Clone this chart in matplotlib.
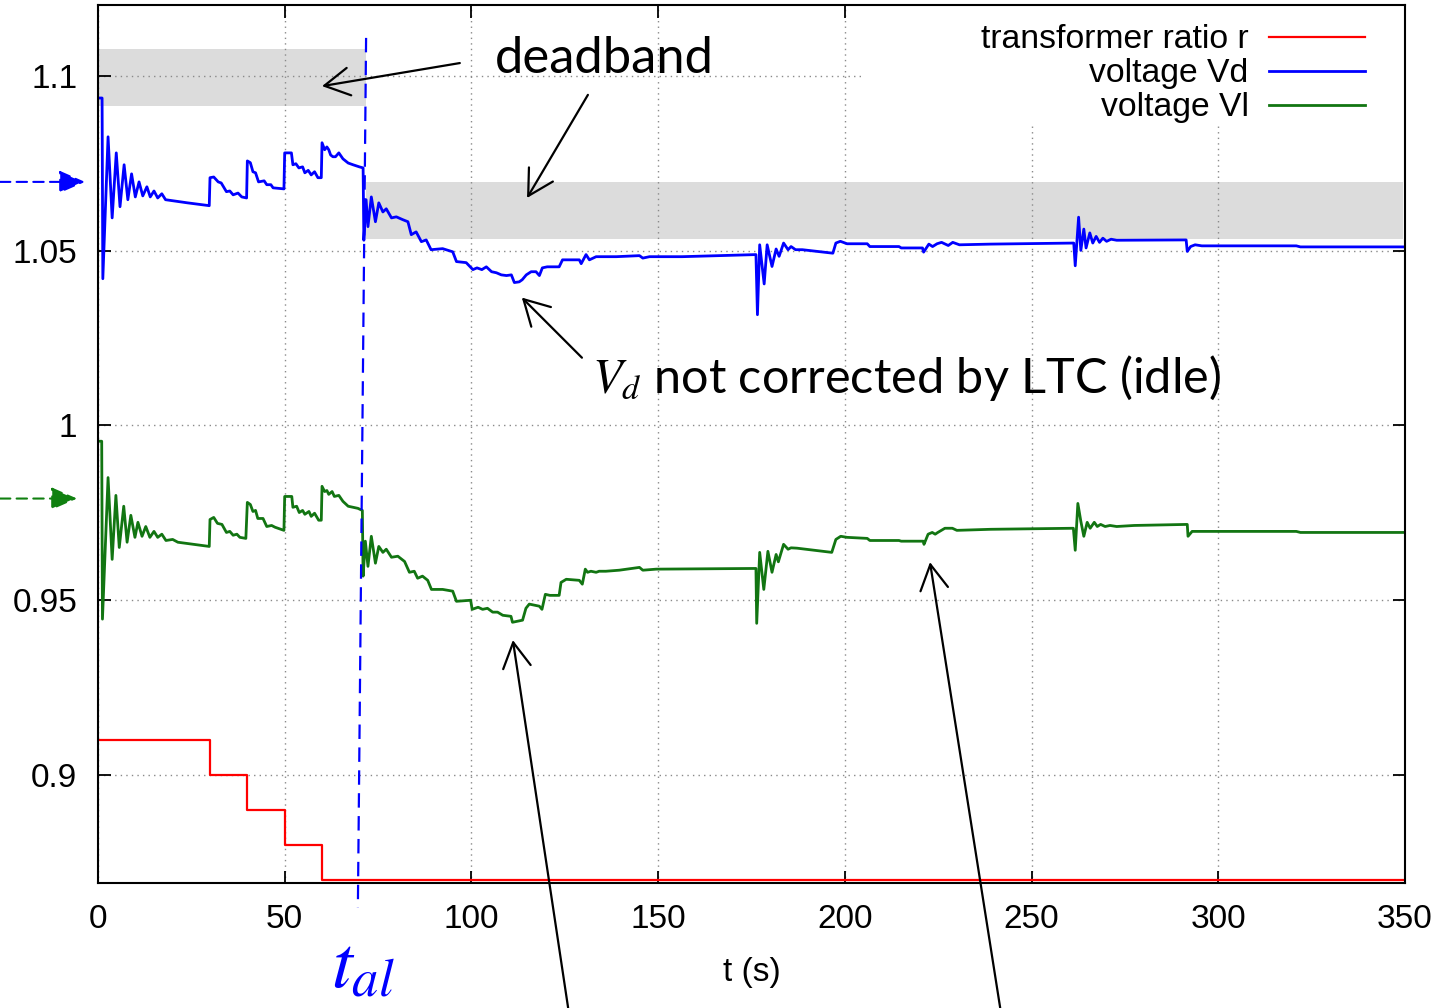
''' LTC voltage response: Vd, Vl and transformer ratio '''

import numpy as np
import matplotlib.pyplot as plt
from matplotlib.patches import Rectangle

plt.rcParams['font.family'] = ['Liberation Sans', 'DejaVu Sans']
plt.rcParams['mathtext.fontset'] = 'stix'

# transformer ratio r (step changes of the tap)
t_r = [0, 30, 40, 50, 60, 350]
r = [0.91, 0.90, 0.89, 0.88, 0.87, 0.87]

# voltage Vd
t_vd = [0.0, 1.1, 1.3, 2.7, 3.8, 4.9, 5.9, 7.0, 8.0, 9.0, 10.0, 11.0, 12.0, 13.1, 14.0,
        15.0, 16.0, 17.1, 18.1, 20.0, 24.0, 29.8,
        30.0, 31.0, 32.2, 33.0, 34.4, 35.3, 36.2, 37.5, 38.5, 39.8,
        40.0, 40.8, 41.5, 42.2, 43.0, 44.5, 45.2, 46.3, 46.9, 49.8,
        50.0, 51.8, 52.2, 53.0, 53.8, 54.8, 55.4, 56.3, 57.1, 58.0, 58.9, 59.8,
        60.0, 60.7, 61.3, 61.8, 62.3, 62.9, 63.6, 64.5, 65.6, 67.0, 68.3, 70.0, 71.0,
        71.2, 71.8, 72.3, 73.2, 74.3, 75.2, 76.3, 77.2, 78.6, 79.9, 81.6, 83.0, 83.9,
        85.2, 86.6, 87.9, 89.2, 92.3, 95.0, 96.0, 98.6, 100.4,
        101.5, 102.8, 104.0, 105.4, 106.7, 108.0, 109.4, 110.7, 111.5, 112.8, 113.6,
        114.7, 116.0, 117.3, 118.2, 119.0, 120.3, 123.5, 124.4, 128.9, 129.4, 130.7,
        131.6, 133.4, 138.8, 145.0, 145.9, 147.7, 149.5, 156.4, 176.2,
        176.6, 177.2, 178.4, 179.2, 180.5, 181.6, 182.4, 183.6, 184.8, 185.6, 186.8,
        188.6, 196.8, 197.6, 198.8, 200.6, 206.0, 206.7, 214.5, 215.1, 220.8, 221.1,
        222.5, 223.5, 224.7, 225.9, 227.7, 228.9, 230.7, 239.1, 261.3,
        261.7, 262.6, 263.2, 264.0, 264.6, 265.6, 266.4, 267.3, 268.2, 269.1, 270.1,
        271.3, 272.8, 291.4, 291.7, 292.6, 293.8, 295.6, 320.9, 322.0, 350.0]
v_d = [1.0937, 1.0937, 1.0420, 1.0826, 1.0594, 1.0780, 1.0626, 1.0746, 1.0646, 1.0720,
       1.0654, 1.0697, 1.0657, 1.0683, 1.0654, 1.0671, 1.0651, 1.0663, 1.0646, 1.0643,
       1.0637, 1.0629,
       1.0709, 1.0711, 1.0697, 1.0694, 1.0669, 1.0671, 1.0660, 1.0665, 1.0654, 1.0651,
       1.0757, 1.0752, 1.0726, 1.0723, 1.0697, 1.0700, 1.0689, 1.0689, 1.0680, 1.0677,
       1.0780, 1.0780, 1.0746, 1.0749, 1.0737, 1.0740, 1.0723, 1.0730, 1.0717, 1.0726,
       1.0709, 1.0709,
       1.0809, 1.0789, 1.0797, 1.0789, 1.0774, 1.0769, 1.0769, 1.0780, 1.0763, 1.0751,
       1.0746, 1.0740, 1.0737,
       1.0530, 1.0646, 1.0569, 1.0654, 1.0583, 1.0637, 1.0611, 1.0620, 1.0594, 1.0597,
       1.0589, 1.0583, 1.0546, 1.0554, 1.0526, 1.0531, 1.0503, 1.0506, 1.0497, 1.0469,
       1.0466, 1.0446,
       1.0451, 1.0446, 1.0454, 1.0440, 1.0437, 1.0431, 1.0429, 1.0431, 1.0409, 1.0411,
       1.0417, 1.0431, 1.0440, 1.0440, 1.0429, 1.0451, 1.0454, 1.0454, 1.0474, 1.0474,
       1.0463, 1.0489, 1.0474, 1.0483, 1.0483, 1.0486, 1.0479, 1.0483, 1.0483, 1.0483,
       1.0489,
       1.0317, 1.0517, 1.0405, 1.0517, 1.0455, 1.0505, 1.0484, 1.0522, 1.0503, 1.0512,
       1.0503, 1.0503, 1.0493, 1.0522, 1.0527, 1.0520, 1.0520, 1.0512, 1.0512, 1.0508,
       1.0508, 1.0496, 1.0519, 1.0512, 1.0520, 1.0524, 1.0515, 1.0524, 1.0517, 1.0519,
       1.0522,
       1.0457, 1.0596, 1.0501, 1.0562, 1.0508, 1.0551, 1.0522, 1.0541, 1.0524, 1.0536,
       1.0527, 1.0533, 1.0530, 1.0531, 1.0498, 1.0512, 1.0517, 1.0514, 1.0514, 1.0511,
       1.0511]

# voltage Vl
t_vl = [0.0, 1.0, 1.2, 2.7, 3.8, 4.8, 5.7, 6.9, 7.8, 8.8, 9.9, 10.7, 11.8, 12.8, 13.9,
        15.0, 16.0, 17.1, 18.2, 20.0, 21.4, 29.8,
        30.0, 31.0, 32.0, 33.2, 34.4, 35.3, 36.2, 37.2, 38.0, 39.6,
        40.0, 40.8, 41.5, 42.2, 42.8, 44.2, 45.2, 46.5, 47.4, 49.8,
        50.0, 51.9, 52.2, 53.2, 53.9, 54.8, 55.4, 56.5, 57.1, 58.0, 59.1, 59.8,
        60.0, 60.7, 61.3, 61.8, 62.7, 63.3, 64.5, 65.6, 67.0, 68.3, 69.6, 70.8,
        71.0, 71.6, 72.3, 73.2, 74.3, 75.2, 76.3, 77.2, 78.6, 80.3, 82.1, 83.4, 84.7,
        85.6, 86.9, 88.3, 89.3, 92.3, 95.0, 96.0, 99.8,
        100.2, 101.8, 103.0, 104.3, 105.7, 107.0, 108.4, 110.6, 111.0, 113.7, 114.6,
        115.5, 118.2, 118.9, 119.8, 121.0, 123.5, 124.0, 125.4, 128.9, 129.7, 130.5,
        131.1, 132.0, 133.4, 134.2, 136.0, 139.6, 145.0, 145.9, 149.5, 176.2,
        176.4, 177.2, 178.3, 179.4, 180.5, 181.6, 182.2, 183.6, 184.8, 185.6, 187.2,
        196.5, 197.6, 198.9, 200.6, 206.0, 206.7, 214.5, 215.1, 221.0, 221.2, 222.3,
        223.4, 224.2, 224.9, 226.8, 228.8, 230.0, 239.0, 261.2,
        261.7, 262.4, 263.2, 264.0, 264.9, 265.7, 266.8, 267.6, 268.5, 269.7, 271.0,
        272.8, 277.5, 291.7, 291.9, 293.0, 295.5, 320.9, 322.0, 350.0]
v_l = [0.9955, 0.9955, 0.9446, 0.9851, 0.9617, 0.9800, 0.9651, 0.9769, 0.9666, 0.9743,
       0.9680, 0.9723, 0.9683, 0.9711, 0.9680, 0.9697, 0.9680, 0.9689, 0.9671, 0.9674,
       0.9666, 0.9654,
       0.9731, 0.9737, 0.9720, 0.9717, 0.9694, 0.9697, 0.9686, 0.9689, 0.9680, 0.9677,
       0.9780, 0.9774, 0.9754, 0.9757, 0.9734, 0.9734, 0.9711, 0.9714, 0.9709, 0.9700,
       0.9797, 0.9797, 0.9766, 0.9769, 0.9751, 0.9757, 0.9746, 0.9754, 0.9740, 0.9749,
       0.9729, 0.9729,
       0.9826, 0.9811, 0.9814, 0.9803, 0.9811, 0.9797, 0.9800, 0.9783, 0.9769, 0.9766,
       0.9763, 0.9757,
       0.9569, 0.9669, 0.9597, 0.9683, 0.9606, 0.9654, 0.9637, 0.9646, 0.9623, 0.9626,
       0.9611, 0.9580, 0.9583, 0.9563, 0.9569, 0.9557, 0.9531, 0.9531, 0.9526, 0.9497,
       0.9500,
       0.9474, 0.9480, 0.9474, 0.9477, 0.9466, 0.9466, 0.9457, 0.9454, 0.9437, 0.9443,
       0.9477, 0.9489, 0.9483, 0.9474, 0.9517, 0.9514, 0.9514, 0.9551, 0.9560, 0.9557,
       0.9546, 0.9589, 0.9580, 0.9583, 0.9580, 0.9583, 0.9583, 0.9586, 0.9594, 0.9586,
       0.9589, 0.9591,
       0.9434, 0.9637, 0.9531, 0.9640, 0.9580, 0.9631, 0.9610, 0.9660, 0.9646, 0.9650,
       0.9649, 0.9637, 0.9674, 0.9683, 0.9680, 0.9677, 0.9671, 0.9671, 0.9669, 0.9669,
       0.9660, 0.9689, 0.9694, 0.9689, 0.9694, 0.9706, 0.9706, 0.9700, 0.9703, 0.9706,
       0.9643, 0.9777, 0.9726, 0.9683, 0.9723, 0.9706, 0.9723, 0.9711, 0.9717, 0.9711,
       0.9714, 0.9711, 0.9714, 0.9717, 0.9683, 0.9697, 0.9697, 0.9697, 0.9694, 0.9694]

# deadbands (t start, t end, lower, upper)
band_before = (0, 71.8, 1.0915, 1.1077)
band_after = (71.7, 349.5, 1.0535, 1.0697)

# alarm time marker, slightly slanted
t_al_line = [71.8, 69.6]
v_al_line = [1.1109, 0.862]

y_ticks = [0.9, 0.95, 1.0, 1.05, 1.1]
y_tick_labels = ['0.9', '0.95', '1', '1.05', '1.1']
x_ticks = [0, 50, 100, 150, 200, 250, 300, 350]

fig = plt.figure(figsize=(14.45, 10.08), dpi=100)
ax = fig.add_axes([0.0678, 0.124, 0.9045, 0.871])

# shaded deadbands
for t0, t1, lo, hi in (band_before, band_after):
    ax.fill_between([t0, t1], lo, hi, color='#dcdcdc', lw=0, zorder=0.3)

ax.set_axisbelow(True)
ax.grid(True, color='#8a8a8a', linestyle=(0, (1, 3)), lw=1.0)

# opaque key area
ax.add_patch(Rectangle((0.587, 0.8645), 0.413, 0.1355, transform=ax.transAxes,
                       facecolor='white', edgecolor='none', zorder=0.8))

ax.plot(t_r, r, drawstyle='steps-post', color='#ff0000', lw=1.6, label='transformer ratio r')
ax.plot(t_vd, v_d, color='#0000ff', lw=2.0, label='voltage Vd')
ax.plot(t_vl, v_l, color='#127512', lw=2.0, label='voltage Vl')

ax.plot(t_al_line, v_al_line, color='#0000ff', lw=1.6, linestyle=(0, (6.5, 3.8)), clip_on=False)

ax.set_xlim(0, 350)
ax.set_ylim(0.8691, 1.1203)
ax.set_xticks(x_ticks)
ax.set_yticks(y_ticks)
ax.set_yticklabels(y_tick_labels)
ax.tick_params(direction='in', length=9, width=1.3, labelsize=24, pad=15,
               top=True, right=True)
for s in ax.spines.values():
    s.set_linewidth(1.5)

ax.set_xlabel('t (s)', fontsize=24, labelpad=16)

ax.legend(loc='upper right', bbox_to_anchor=(0.9694, 0.978), markerfirst=False,
          frameon=False, fontsize=24.3, handlelength=2.85, handletextpad=0.6,
          labelspacing=0.09, borderpad=0, borderaxespad=0)

# arrows from the left margin
ytr = ax.get_yaxis_transform()
ax.annotate('', xy=(-0.0099, 1.0697), xytext=(-0.075, 1.0697), xycoords=ytr, textcoords=ytr,
            annotation_clip=False,
            arrowprops=dict(arrowstyle='-|>,head_length=0.8,head_width=0.35', color='#0000ff',
                            lw=1.5, linestyle=(0, (5, 3)), shrinkA=0, shrinkB=0,
                            mutation_scale=20))
ax.annotate('', xy=(-0.016, 0.9791), xytext=(-0.075, 0.9791), xycoords=ytr, textcoords=ytr,
            annotation_clip=False,
            arrowprops=dict(arrowstyle='-|>,head_length=0.8,head_width=0.35', color='#108010',
                            lw=1.5, linestyle=(0, (5, 3)), shrinkA=0, shrinkB=0,
                            mutation_scale=20))

# callouts
arrow_kw = dict(arrowstyle='->,head_length=0.9,head_width=0.5', color='black', lw=1.6,
                shrinkA=0, shrinkB=0, mutation_scale=20)
callouts = [((60.0, 1.0971), (96.9, 1.1037)),
            ((114.9, 1.0651), (131.2, 1.0946)),
            ((113.5, 1.0366), (129.6, 1.0194)),
            ((111.1, 0.9386), (125.9, 0.8334)),
            ((222.8, 0.9609), (241.6, 0.8334))]
for tip, tail in callouts:
    ax.annotate('', xy=tip, xytext=tail, annotation_clip=False, arrowprops=arrow_kw)

ax.text(106.3, 1.1009, 'deadband', fontsize=36.5, family='Lato', va='baseline')
ax.text(132.4, 1.0094, r'$V_d$ not corrected by LTC (idle)', fontsize=35, family='Lato',
        va='baseline')
ax.text(62.3, 0.8391, r'$t_{al}$', fontsize=54, color='#0000ff', va='baseline')

plt.savefig('out.png', dpi=100)
